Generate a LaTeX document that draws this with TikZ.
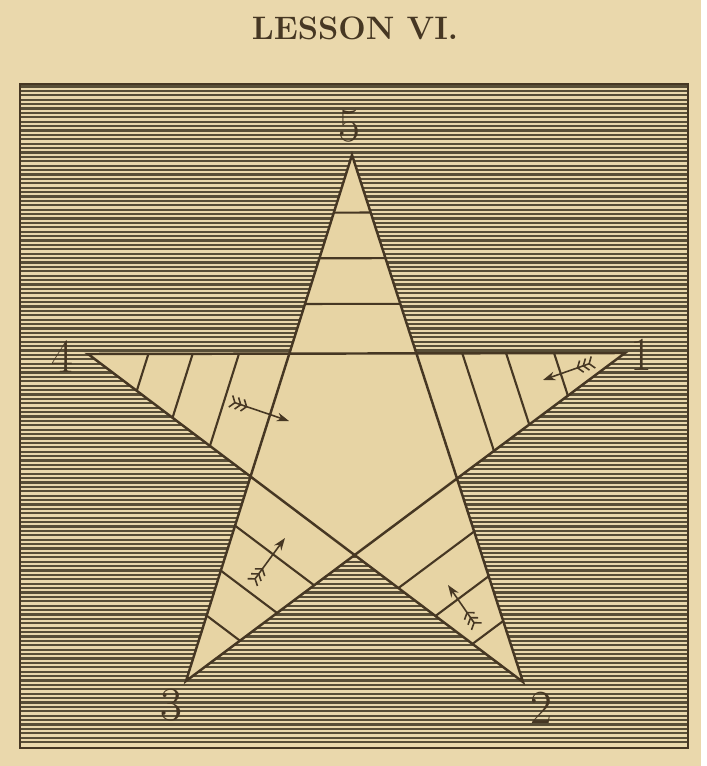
\documentclass[tikz,border=0pt]{standalone}
\usetikzlibrary{arrows.meta, calc}
\definecolor{paper}{RGB}{234,216,172}
\definecolor{starfill}{RGB}{231,212,164}
\definecolor{ink}{RGB}{70,55,35}
\definecolor{rule}{RGB}{88,78,55}
\tikzset{
  hatch/.style={rule, line width=1.35pt},
  edge/.style={ink, line width=1.4pt},
  rib/.style={ink, line width=1.2pt},
  digit/.style={ink, font=\fontsize{27}{29}\selectfont},
  flight/.style={ink, line width=0.9pt,
    arrows={{Straight Barb[reversed,length=2.5pt,width=7pt] Straight Barb[reversed,length=2.5pt,width=7pt] Straight Barb[reversed,length=2.5pt,width=7pt]}-{Stealth[length=7pt,width=5pt]}}}
}

\begin{document}
\begin{tikzpicture}[x=0.02cm, y=-0.02cm]
    \useasboundingbox (0,0) rectangle (706,766);
    \fill[paper] (0,0) rectangle (706,766);
    \fill[white] (701,0) rectangle (706,766);

    % Title
    \node[ink, font=\bfseries\fontsize{18.5}{22}\selectfont] (title) at (355,28) {LESSON VI.};

    % Frame with horizontal rules
    \fill[paper] (20,84) rectangle (688,748);
    \foreach \y in {86.5,90.9,...,746}
        \draw[hatch] (20,\y) -- (688,\y);
    \draw[ink, line width=1.1pt] (20,84) rectangle (688,748);

    % Points of the star
    \coordinate (p5) at (352,155);
    \coordinate (p4) at (88,354);
    \coordinate (p1) at (625,353);
    \coordinate (p3) at (186,681);
    \coordinate (p2) at (523,682);

    % Inner corners
    \coordinate (q54) at (intersection of p5--p3 and p4--p1);
    \coordinate (q51) at (intersection of p5--p2 and p4--p1);
    \coordinate (q43) at (intersection of p5--p3 and p4--p2);
    \coordinate (q12) at (intersection of p5--p2 and p1--p3);
    \coordinate (q32) at (intersection of p4--p2 and p1--p3);

    % Star
    \fill[starfill] (p5) -- (q51) -- (p1) -- (q12) -- (p2) -- (q32) -- (p3) -- (q43) -- (p4) -- (q54) -- cycle;
    \draw[edge, line join=miter] (p5) -- (p3) -- (p1) -- (p4) -- (p2) -- cycle;

    % Cross lines in each point
    \foreach \t/\a/\b/\fl in {p5/q54/q51/{0.25,0.48,0.71}, p4/q54/q43/{0.25,0.48,0.70},
                              p1/q51/q12/{0.22,0.43,0.66}, p3/q43/q32/{0.24,0.46,0.68},
                              p2/q12/q32/{0.26,0.48,0.70}}
        \foreach \f in \fl
            \draw[rib] ($(\a)!\f!(\t)$) -- ($(\b)!\f!(\t)$);

    % Arrows
    \coordinate (a4s) at (230,401);  \coordinate (a4e) at (289,421);
    \coordinate (a1s) at (594,362);  \coordinate (a1e) at (543,380);
    \coordinate (a3s) at (252,583);  \coordinate (a3e) at (285,538);
    \coordinate (a2s) at (477,627);  \coordinate (a2e) at (448,585);
    \draw[flight] (a4s) -- (a4e);
    \draw[flight] (a1s) -- (a1e);
    \draw[flight] (a3s) -- (a3e);
    \draw[flight] (a2s) -- (a2e);

    % Numbers
    \node[digit] (n5) at (349,126) {5};
    \node[digit] (n4) at (62,357) {4};
    \node[digit] (n1) at (641,355) {1};
    \node[digit] (n3) at (171,705) {3};
    \node[digit] (n2) at (541,708) {2};
\end{tikzpicture}
\end{document}
